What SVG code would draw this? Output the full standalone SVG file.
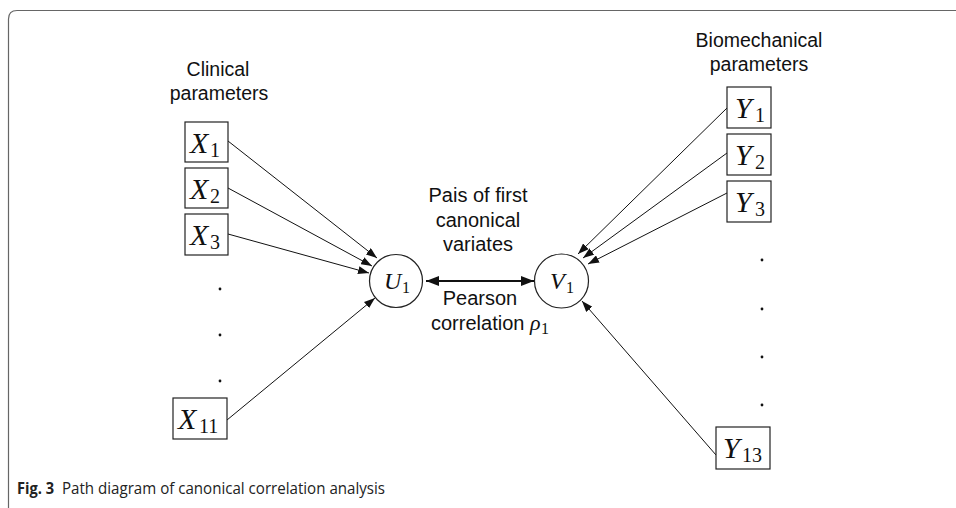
<svg xmlns="http://www.w3.org/2000/svg" width="956" height="508" viewBox="0 0 956 508">
<style>
.lbl{font-family:"Liberation Sans",Arial,sans-serif;font-size:19.5px;fill:#111}
.mid{font-family:"Liberation Sans",Arial,sans-serif;font-size:20px;fill:#111}
.m{font-family:"Liberation Serif","Times New Roman",serif;font-style:italic;fill:#111}
.s{font-family:"Liberation Serif","Times New Roman",serif;fill:#111}
.box{fill:#fff;stroke:#222;stroke-width:1.2}
.circ{fill:#fff;stroke:#222;stroke-width:1.2}
.con{stroke:#111;stroke-width:1;fill:none}
.dot{fill:#111}
.cap{font-family:"Open Sans","Noto Sans",sans-serif;font-size:16px;fill:#222}
</style>
<defs>
<marker id="ah" markerUnits="userSpaceOnUse" markerWidth="11" markerHeight="8" refX="11" refY="4" orient="auto">
<path d="M0,0 L11,4 L0,8 z" fill="#111"/>
</marker>
<marker id="ah2" markerUnits="userSpaceOnUse" markerWidth="13" markerHeight="10" refX="13" refY="5" orient="auto-start-reverse">
<path d="M0,0 L13,5 L0,10 z" fill="#111"/>
</marker>
</defs>
<rect width="956" height="508" fill="#fff"/>
<path d="M8.5,508 L8.5,19 Q8.5,10.5 17,10.5 L956,10.5" fill="none" stroke="#666" stroke-width="1.2"/>

<g id="labels">
<text class="lbl" x="218" y="76" text-anchor="middle">Clinical</text>
<text class="lbl" x="219" y="100" text-anchor="middle">parameters</text>
<text class="lbl" x="759" y="47" text-anchor="middle">Biomechanical</text>
<text class="lbl" x="759" y="71" text-anchor="middle">parameters</text>
<text class="mid" x="478" y="202" text-anchor="middle">Pais of first</text>
<text class="mid" x="478" y="227" text-anchor="middle">canonical</text>
<text class="mid" x="478" y="251" text-anchor="middle">variates</text>
<text class="mid" x="480" y="305" text-anchor="middle">Pearson</text>
<text class="mid" x="431" y="330">correlation</text>
<text class="m" x="530" y="330" font-size="22">ρ</text>
<text class="s" x="541" y="334" font-size="16">1</text>
</g>

<g id="connectors">
<line class="con" x1="228" y1="141" x2="377" y2="258" marker-end="url(#ah)"/>
<line class="con" x1="228" y1="188" x2="372" y2="266" marker-end="url(#ah)"/>
<line class="con" x1="228" y1="234" x2="369" y2="273" marker-end="url(#ah)"/>
<line class="con" x1="227" y1="420" x2="375" y2="298" marker-end="url(#ah)"/>
<line class="con" x1="727" y1="108" x2="578" y2="254" marker-end="url(#ah)"/>
<line class="con" x1="727" y1="153" x2="583" y2="258" marker-end="url(#ah)"/>
<line class="con" x1="727" y1="193" x2="588" y2="264" marker-end="url(#ah)"/>
<line class="con" x1="716" y1="455" x2="582" y2="301" marker-end="url(#ah)"/>
<line x1="426" y1="281" x2="534" y2="281" stroke="#111" stroke-width="2" marker-start="url(#ah2)" marker-end="url(#ah2)"/>
</g>

<g id="X1"><rect class="box" x="185" y="122" width="43" height="40"/><text class="m" x="190" y="153" font-size="30">X</text><text class="s" x="210" y="157" font-size="20">1</text></g>
<g id="X2"><rect class="box" x="185" y="168" width="43" height="40"/><text class="m" x="190" y="199" font-size="30">X</text><text class="s" x="210" y="203" font-size="20">2</text></g>
<g id="X3"><rect class="box" x="185" y="214" width="43" height="41"/><text class="m" x="190" y="245" font-size="30">X</text><text class="s" x="210" y="249" font-size="20">3</text></g>
<g id="Xdots"><circle class="dot" cx="220" cy="289" r="1.4"/><circle class="dot" cx="220" cy="335" r="1.4"/><circle class="dot" cx="220" cy="381" r="1.4"/></g>
<g id="X11"><rect class="box" x="173" y="398" width="54" height="41"/><text class="m" x="178" y="429" font-size="30">X</text><text class="s" x="199" y="433" font-size="20">11</text></g>

<g id="Y1"><rect class="box" x="727" y="87" width="44" height="41"/><text class="m" x="735" y="118" font-size="30">Y</text><text class="s" x="755" y="122" font-size="20">1</text></g>
<g id="Y2"><rect class="box" x="727" y="134" width="44" height="41"/><text class="m" x="735" y="165" font-size="30">Y</text><text class="s" x="755" y="169" font-size="20">2</text></g>
<g id="Y3"><rect class="box" x="727" y="181" width="44" height="41"/><text class="m" x="735" y="212" font-size="30">Y</text><text class="s" x="755" y="216" font-size="20">3</text></g>
<g id="Ydots"><circle class="dot" cx="762" cy="260" r="1.4"/><circle class="dot" cx="762" cy="309" r="1.4"/><circle class="dot" cx="762" cy="357" r="1.4"/><circle class="dot" cx="762" cy="405" r="1.4"/></g>
<g id="Y13"><rect class="box" x="716" y="427" width="54" height="42"/><text class="m" x="723" y="458" font-size="30">Y</text><text class="s" x="742" y="462" font-size="20">13</text></g>

<g id="U1"><circle class="circ" cx="396" cy="281" r="26.5"/><text class="m" x="384" y="289" font-size="24">U</text><text class="s" x="402" y="293" font-size="16">1</text></g>
<g id="V1"><circle class="circ" cx="561.5" cy="281" r="27"/><text class="m" x="550" y="289" font-size="24">V</text><text class="s" x="566" y="293" font-size="16">1</text></g>

<g id="caption">
<text class="cap" x="17" y="494" font-weight="bold" font-size="17" textLength="37" lengthAdjust="spacingAndGlyphs">Fig. 3</text>
<text class="cap" x="62" y="494" textLength="323" lengthAdjust="spacingAndGlyphs">Path diagram of canonical correlation analysis</text>
</g>
</svg>
